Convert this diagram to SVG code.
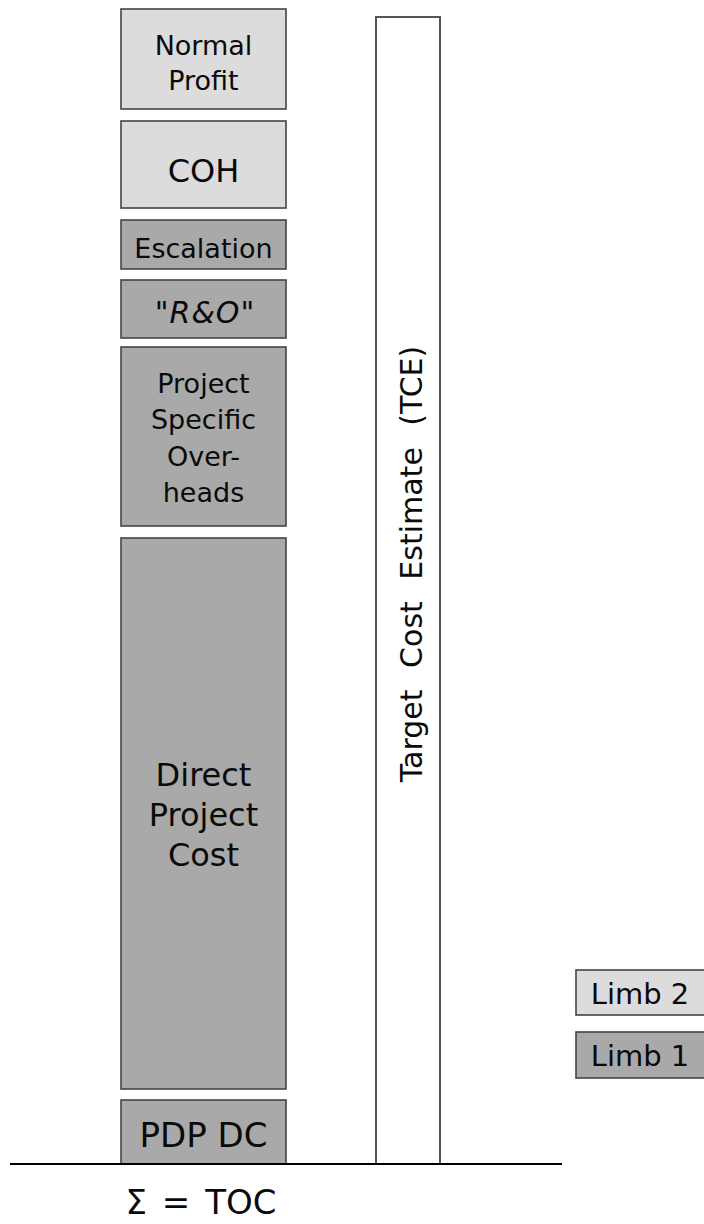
<svg xmlns="http://www.w3.org/2000/svg" width="704" height="1224" viewBox="0 0 704 1224">
  <style>
    .light { fill: #dcdcdc; stroke: #444; stroke-width: 1.6; }
    .dark { fill: #a9a9a9; stroke: #444; stroke-width: 1.6; }
    .frame { fill: #fff; stroke: #555; stroke-width: 2; }
    text { font-family: "DejaVu Sans", "Liberation Sans", sans-serif; fill: #0a0a0a; text-anchor: middle; }
    .t27 { font-size: 27px; }
    .t32 { font-size: 32px; }
    .t34 { font-size: 34px; }
  </style>
  <rect width="704" height="1224" fill="#fff"/>

  <!-- cost stack -->
  <g id="normal-profit">
    <rect class="light" x="121" y="9" width="165" height="100"/>
    <text class="t27" x="203.5" y="55">Normal</text>
    <text class="t27" x="203.5" y="90">Profit</text>
  </g>
  <g id="coh">
    <rect class="light" x="121" y="121" width="165" height="87"/>
    <text class="t32" x="203.5" y="182">COH</text>
  </g>
  <g id="escalation">
    <rect class="dark" x="121" y="220" width="165" height="49"/>
    <text class="t27" x="203.5" y="258">Escalation</text>
  </g>
  <g id="risk-opportunity">
    <rect class="dark" x="121" y="280" width="165" height="58"/>
    <text font-size="30" x="205" y="323" font-style="italic" letter-spacing="1">"R&amp;O"</text>
  </g>
  <g id="project-specific-overheads">
    <rect class="dark" x="121" y="347" width="165" height="179"/>
    <text class="t27" x="203.5" y="393">Project</text>
    <text class="t27" x="203.5" y="429">Specific</text>
    <text class="t27" x="203.5" y="466">Over-</text>
    <text class="t27" x="203.5" y="502">heads</text>
  </g>
  <g id="direct-project-cost">
    <rect class="dark" x="121" y="538" width="165" height="551"/>
    <text class="t32" x="203.5" y="786">Direct</text>
    <text class="t32" x="203.5" y="826">Project</text>
    <text class="t32" x="203.5" y="866">Cost</text>
  </g>
  <g id="pdp-dc">
    <rect class="dark" x="121" y="1100" width="165" height="64"/>
    <text class="t34" x="203.5" y="1147">PDP DC</text>
  </g>

  <!-- total estimate column -->
  <g id="tce">
    <rect class="frame" x="376" y="17" width="64" height="1147"/>
    <text font-size="30" word-spacing="12" transform="translate(422,564) rotate(-90)">Target Cost Estimate (TCE)</text>
  </g>

  <!-- legend -->
  <g id="limb-2">
    <rect class="light" x="576" y="970" width="140" height="45"/>
    <text font-size="29" x="640" y="1004">Limb 2</text>
  </g>
  <g id="limb-1">
    <rect class="dark" x="576" y="1032" width="140" height="46"/>
    <text font-size="29" x="640" y="1066">Limb 1</text>
  </g>

  <g id="connectors">
    <line x1="10" y1="1164" x2="562" y2="1164" stroke="#000" stroke-width="2.2"/>
  </g>

  <g id="sum-label">
    <text font-size="34" x="201" y="1214" word-spacing="4">Σ = TOC</text>
  </g>
</svg>
